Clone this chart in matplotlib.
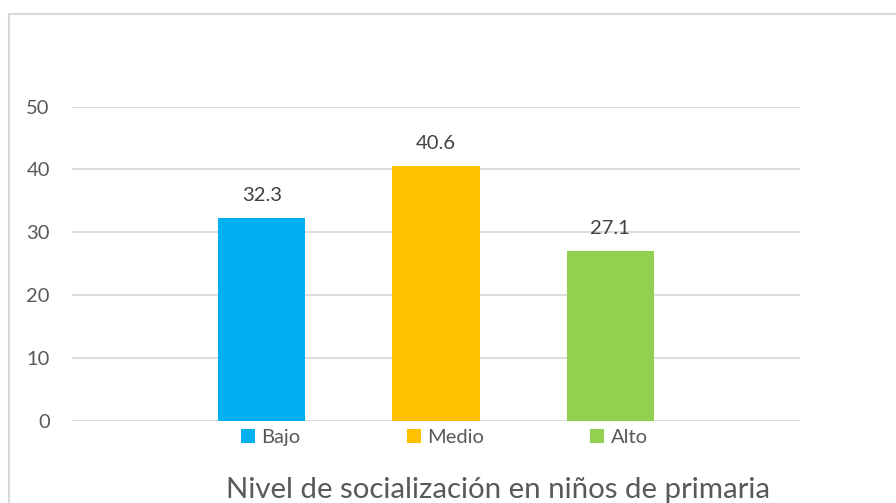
import matplotlib.pyplot as plt
from matplotlib.patches import Rectangle, Patch

categories = ['Bajo', 'Medio', 'Alto']
values = [32.3, 40.6, 27.1]
colors = ['#00B0F0', '#FFC000', '#92D050']
y_ticks = [0, 10, 20, 30, 40, 50]
title = 'Nivel de socialización en niños de primaria'

plt.rcParams['font.family'] = ['Lato', 'DejaVu Sans']
text_color = '#595959'
grid_color = '#D9D9D9'

W, H = 896, 503
fig = plt.figure(figsize=(W / 100, H / 100), dpi=100)

# light border around chart area
fig.patches.append(Rectangle((9 / W, -0.05), 1.2, 1 - 14 / H + 0.05,
                             transform=fig.transFigure, fill=False,
                             edgecolor=grid_color, linewidth=1.5))

ax = fig.add_axes([72 / W, (H - 420.7) / H, 728 / W, 314 / H])
x = list(range(len(categories)))
bars = ax.bar(x, values, width=0.5, color=colors, zorder=3)

for xi, v in zip(x, values):
    ax.text(xi, v + 2.7, f'{v}', ha='center', va='baseline',
            fontsize=14.5, color='#404040')

ax.set_xlim(-1.09, 3.09)
ax.set_ylim(0, 50)
ax.set_yticks(y_ticks)
ax.set_xticks([])
ax.yaxis.grid(True, color=grid_color, linewidth=1.3, zorder=0)
ax.tick_params(axis='y', length=0, pad=16, labelsize=14.5, labelcolor=text_color)
for s in ax.spines.values():
    s.set_visible(False)

handles = [Patch(facecolor=c, edgecolor='none') for c in colors]
fig.legend(handles, categories, loc='upper center', ncol=3,
           bbox_to_anchor=(444 / W, 1 - 428.5 / H), frameon=False,
           fontsize=14.5, labelcolor=text_color, handlelength=0.7,
           handleheight=0.7, handletextpad=0.3, columnspacing=5.3,
           borderpad=0, borderaxespad=0)

fig.text(498 / W, 1 - 490 / H, title, ha='center', va='center',
         fontsize=21.2, color=text_color)

fig.savefig('out.png', dpi=100)
